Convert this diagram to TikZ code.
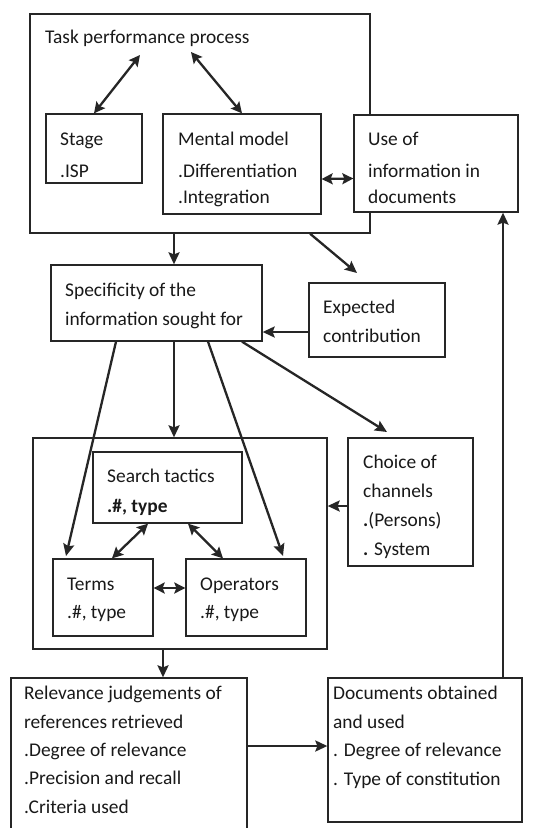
\documentclass[tikz,border=0pt]{standalone}
\usepackage{fontspec}
\setmainfont{Carlito}
\usetikzlibrary{arrows.meta,fit}
\begin{document}
\begin{tikzpicture}[x=1pt,y=-1pt,
 box/.style={draw=black!85, fill=white, line width=1.3pt, inner sep=0pt},
 txt/.style={anchor=base west, inner sep=0pt, align=left, text=black!90},
 fs/.style={font=\fontsize{19.4}{#1}\selectfont},
 arr/.style={line width=2.3pt, draw=black!85, -{Stealth[length=12pt,width=11pt,inset=2pt]}},
 dbl/.style={line width=2.3pt, draw=black!85, {Stealth[length=11pt,width=11pt,inset=2pt]}-{Stealth[length=11pt,width=11pt,inset=2pt]}}]
\useasboundingbox (0,0) rectangle (550,828);
% boxes
\node[box, fit={(30,14) (370,233)}] (task) {};
\node[box, fit={(46,114) (142,183)}] (stage) {};
\node[box, fit={(163,114) (321,214)}] (mental) {};
\node[box, fit={(354,115) (518,212)}] (use) {};
\node[box, fit={(51,265) (262,341)}] (spec) {};
\node[box, fit={(309,283) (445,357)}] (expect) {};
\node[box, fit={(33,438) (327,649)}] (big) {};
\node[box, fit={(93,452) (242,523)}] (tactics) {};
\node[box, fit={(348,438) (473,566)}] (choice) {};
\node[box, fit={(53,559) (153,636)}] (terms) {};
\node[box, fit={(186,559) (306,636)}] (oper) {};
\node[box, fit={(11,678) (247,860)}] (relev) {};
\node[box, fit={(328,678) (522,822)}] (docs) {};
% texts (anchored at the baseline of their last line)
\node[txt, fs=20] (tasktxt) at (45,43) {Task performance process};
\node[txt, fs=32] (stagetxt) at (60,177) {Stage\\.ISP};
\node[txt, fs=26] (mentaltxt) at (178,203) {Mental model\\[6pt].Differentiation\\.Integration};
\node[txt, fs=26] (usetxt) at (368,203) {Use of\\[6pt]information in\\documents};
\node[txt, fs=29] (spectxt) at (65,325) {Specificity of the\\information sought for};
\node[txt, fs=29] (expecttxt) at (323,342) {Expected\\contribution};
\node[txt, fs=30] (tacticstxt) at (107,512) {Search tactics\\\textbf{.\#, type}};
\node[txt, fs=29] (choicetxt) at (363,555) {Choice of\\channels\\\textbf{.}(Persons)\\\textbf{.} System};
\node[txt, fs=28] (termstxt) at (67,618) {Terms\\.\#, type};
\node[txt, fs=28] (opertxt) at (200,618) {Operators\\.\#, type};
\node[txt, fs=28.3] (relevtxt) at (24,813) {Relevance judgements of\\references retrieved\\.Degree of relevance\\.Precision and recall\\.Criteria used};
\node[txt, fs=28.5] (docstxt) at (333,785) {Documents obtained\\and used\\. Degree of relevance\\. Type of constitution};
% connector end points
\coordinate (t1) at (140,55);
\coordinate (t2) at (191,52);
\coordinate (x174) at (174,0);
\coordinate (x310) at (310,0);
\coordinate (e1) at (357,273);
\coordinate (x116) at (116,0);
\coordinate (x208) at (208,0);
\coordinate (x242) at (242,0);
\coordinate (p1) at (66,556);
\coordinate (p2) at (283,556);
\coordinate (p3) at (387,432);
\coordinate (x148) at (148,0);
\coordinate (x112) at (112,0);
\coordinate (x188) at (188,0);
\coordinate (x223) at (223,0);
\coordinate (x163) at (163,0);
\coordinate (x503) at (503,0);
% connectors
\draw[dbl] (t1) -- (stage.north);
\draw[dbl] (t2) -- (mental.north);
\draw[dbl] ([yshift=-15pt]mental.east) -- ([yshift=-15pt]use.west);
\draw[arr] (task.south -| x174) -- (spec.north -| x174);
\draw[arr] (task.south -| x310) -- (e1);
\draw[arr] (expect.west |- 0,332) -- (spec.east |- 0,332);
\draw[arr] (spec.south -| x116) -- (p1);
\draw[arr] (spec.south -| x174) -- (big.north -| x174);
\draw[arr] (spec.south -| x208) -- (p2);
\draw[arr] (spec.south -| x242) -- (p3);
\draw[arr] (choice.west |- 0,506) -- (big.east |- 0,506);
\draw[dbl] (tactics.south -| x148) -- (terms.north -| x112);
\draw[dbl] (tactics.south -| x188) -- (oper.north -| x223);
\draw[dbl] (terms.east |- 0,588) -- (oper.west |- 0,588);
\draw[arr] (big.south -| x163) -- (relev.north -| x163);
\draw[arr] (relev.east |- 0,746) -- (docs.west |- 0,746);
\draw[arr] (docs.north -| x503) -- (use.south -| x503);
\end{tikzpicture}
\end{document}
